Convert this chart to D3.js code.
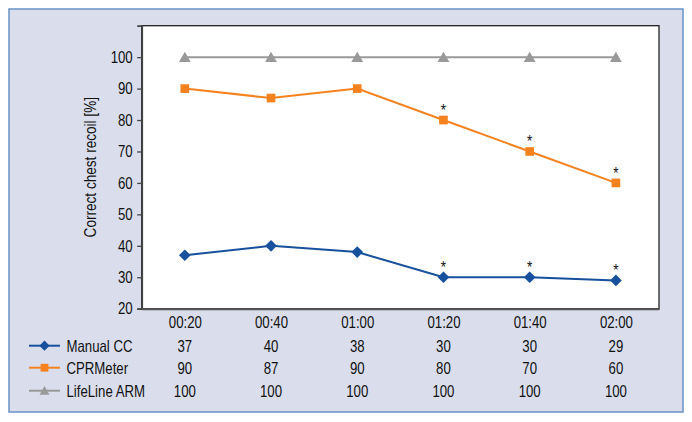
<!DOCTYPE html>
<html><head><meta charset="utf-8">
<script src="https://cdn.jsdelivr.net/npm/d3@7"></script>
<style>
html,body{margin:0;padding:0;background:#fff;}
text{font-family:"Liberation Sans",Arial,sans-serif;fill:#111;}
</style></head>
<body>
<svg id="c" width="692" height="422"></svg>
<script>
const categories = ["00:20","00:40","01:00","01:20","01:40","02:00"];
const manualCC = [37,40,38,30,30,29];
const cprMeter = [90,87,90,80,70,60];
const lifeLine = [100,100,100,100,100,100];
const seriesNames = ["Manual CC","CPRMeter","LifeLine ARM"];
const significant = [false,false,false,true,true,true];
const yTicks = [20,30,40,50,60,70,80,90,100];
const yTitle = "Correct chest recoil [%]";

const SX = 0.8, FS = 16.5;
const svg = d3.select("#c");
function ntext(g, x, y, txt, anchor, size){
  return g.append("text").attr("transform",`translate(${x},${y}) scale(${SX},1)`)
    .attr("text-anchor",anchor||"start").attr("font-size",size||FS).text(txt);
}
function narrowAxisText(sel){
  sel.each(function(){
    const t=d3.select(this);
    const xv=+t.attr("x")||0;
    t.attr("x",xv/SX).attr("transform",`scale(${SX},1)`).attr("font-size",FS)
     .style("font-family",'"Liberation Sans",Arial,sans-serif').attr("fill","#111");
  });
}

// panel
svg.append("rect").attr("x",9).attr("y",9).attr("width",674).attr("height",403)
  .attr("fill","#dadeec").attr("stroke","#6a92c8").attr("stroke-width",1.5);

const L=141.7, T=25.7, R=659, B=308.7;
svg.append("rect").attr("x",L).attr("y",T).attr("width",R-L).attr("height",B-T)
  .attr("fill","#fff").attr("stroke","#222").attr("stroke-width",1.3);

const x = d3.scalePoint().domain(categories).range([L,R]).padding(0.5);
const y = d3.scaleLinear().domain([20,110]).range([B,T]);

// y axis
const yAxis = d3.axisLeft(y).tickValues(yTicks).tickSize(4.5).tickPadding(4.5).tickFormat(d3.format("d"));
const gy = svg.append("g").attr("transform",`translate(${L},0)`).call(yAxis);
gy.select(".domain").attr("stroke","#444").attr("stroke-width",1.8);
gy.selectAll(".tick line").attr("stroke","#444").attr("stroke-width",1.3);
narrowAxisText(gy.selectAll("text"));

// x axis
const xAxis = d3.axisBottom(x).tickSize(0).tickPadding(8);
const gx = svg.append("g").attr("transform",`translate(0,${B})`).call(xAxis);
gx.select(".domain").attr("stroke","#555").attr("stroke-width",2);
narrowAxisText(gx.selectAll("text"));

// y title
svg.append("text").attr("transform",`translate(96,${(T+B)/2}) rotate(-90) scale(${SX},1)`)
  .attr("text-anchor","middle").attr("font-size",17).text(yTitle);

const series = [
  {name:seriesNames[0], data:manualCC, color:"#17509c", sym:d3.symbolDiamond2, size:87, lsize:66, dy:0, star:true},
  {name:seriesNames[1], data:cprMeter, color:"#f5821f", sym:d3.symbolSquare2, size:96, lsize:78, dy:0, star:true},
  {name:seriesNames[2], data:lifeLine, color:"#999999", sym:d3.symbolTriangle2, size:100, lsize:72, dy:1.5, star:false}
];

const line = d3.line().x((d,i)=>x(categories[i])).y(d=>y(d));
series.slice().reverse().forEach(s=>{
  svg.append("path").datum(s.data).attr("d",line).attr("fill","none")
    .attr("stroke",s.color).attr("stroke-width",2);
  svg.selectAll(null).data(s.data).enter().append("path")
    .attr("d",d3.symbol().type(s.sym).size(s.size))
    .attr("transform",(d,i)=>`translate(${x(categories[i])},${y(d)+s.dy})`)
    .attr("fill",s.color);
  if(s.star){
    s.data.forEach((v,i)=>{
      if(significant[i]) ntext(svg, x(categories[i]), y(v)-4, "*", "middle", 17);
    });
  }
});

// data table / legend
const rowY = [345.7,367.7,390.7];
series.forEach((s,r)=>{
  const yy=rowY[r];
  svg.append("line").attr("x1",29).attr("x2",60).attr("y1",yy).attr("y2",yy)
    .attr("stroke",s.color).attr("stroke-width",2);
  svg.append("path").attr("d",d3.symbol().type(s.sym).size(s.lsize))
    .attr("transform",`translate(44.5,${yy+s.dy*0.8})`).attr("fill",s.color);
  ntext(svg, 66.5, yy+6, s.name, "start");
  s.data.forEach((d,i)=>ntext(svg, x(categories[i]), yy+6, d, "middle"));
});
</script>
</body></html>
